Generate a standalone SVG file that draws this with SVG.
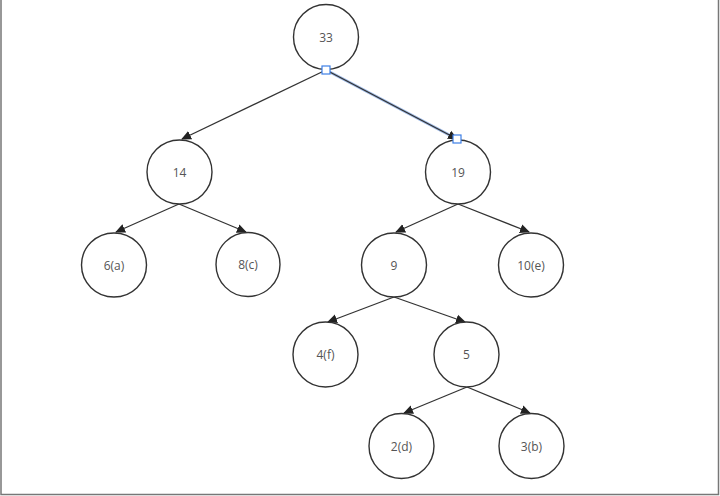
<svg xmlns="http://www.w3.org/2000/svg" width="720" height="496" viewBox="0 0 720 496">
<defs>
<marker id="arr" viewBox="0 0 10 10" refX="9" refY="5" markerWidth="10" markerHeight="10" markerUnits="userSpaceOnUse" orient="auto">
<path d="M0,0.5 L10,5 L0,9.5 z" fill="#222"/>
</marker>
</defs>
<style>
.node ellipse{fill:#fff;stroke:#333;stroke-width:1.4}
.node text{font-family:"Open Sans","Noto Sans","Liberation Sans",sans-serif;font-size:12px;fill:#555;text-anchor:middle;dominant-baseline:central}
.edge{stroke:#333;stroke-width:1.3;fill:none;marker-end:url(#arr)}
.handle{fill:#fff;stroke:#3d7fe6;stroke-width:1.2}
</style>
<rect x="0" y="0" width="720" height="496" fill="#fff"/>
<path d="M1,0 V494.5 H718.5 V0" fill="none" stroke="#777" stroke-width="1.5"/>
<g id="connectors">
<line class="edge" x1="326" y1="70" x2="182" y2="139"/>
<line x1="326" y1="70" x2="457" y2="139" stroke="#9fbbe8" stroke-width="3"/>
<line class="edge" x1="326" y1="70" x2="457" y2="139" stroke="#2a3550"/>
<line class="edge" x1="179" y1="204" x2="116" y2="232"/>
<line class="edge" x1="179" y1="204" x2="246" y2="232"/>
<line class="edge" x1="458" y1="204" x2="396" y2="232"/>
<line class="edge" x1="458" y1="204" x2="529" y2="232"/>
<line class="edge" x1="394" y1="297" x2="328" y2="322"/>
<line class="edge" x1="394" y1="297" x2="465" y2="322"/>
<line class="edge" x1="467" y1="387" x2="404" y2="413"/>
<line class="edge" x1="467" y1="387" x2="530" y2="413"/>
</g>
<g id="n33" class="node"><ellipse cx="326" cy="37" rx="32.5" ry="32.5"/><text x="326" y="37">33</text></g>
<g id="n14" class="node"><ellipse cx="179.5" cy="172" rx="32.5" ry="32"/><text x="179.5" y="172">14</text></g>
<g id="n19" class="node"><ellipse cx="458" cy="172" rx="32.5" ry="32"/><text x="458" y="172">19</text></g>
<g id="n6a" class="node"><ellipse cx="114" cy="265" rx="32.5" ry="32"/><text x="114" y="265">6(a)</text></g>
<g id="n8c" class="node"><ellipse cx="248" cy="264.5" rx="32" ry="32"/><text x="248" y="264.5">8(c)</text></g>
<g id="n9" class="node"><ellipse cx="394" cy="265" rx="32.5" ry="32"/><text x="394" y="265">9</text></g>
<g id="n10e" class="node"><ellipse cx="531" cy="265" rx="32.5" ry="32"/><text x="531" y="265">10(e)</text></g>
<g id="n4f" class="node"><ellipse cx="325.5" cy="354.5" rx="32.5" ry="32.5"/><text x="325.5" y="354.5">4(f)</text></g>
<g id="n5" class="node"><ellipse cx="466.5" cy="354.5" rx="32.5" ry="32.5"/><text x="466.5" y="354.5">5</text></g>
<g id="n2d" class="node"><ellipse cx="401.5" cy="446" rx="32.5" ry="32.5"/><text x="401.5" y="446">2(d)</text></g>
<g id="n3b" class="node"><ellipse cx="531.5" cy="446" rx="32.5" ry="32.5"/><text x="531.5" y="446">3(b)</text></g>
<g id="selection-handles">
<rect class="handle" x="322" y="66" width="8" height="8"/>
<rect class="handle" x="453" y="135" width="8" height="8"/>
</g>
</svg>
